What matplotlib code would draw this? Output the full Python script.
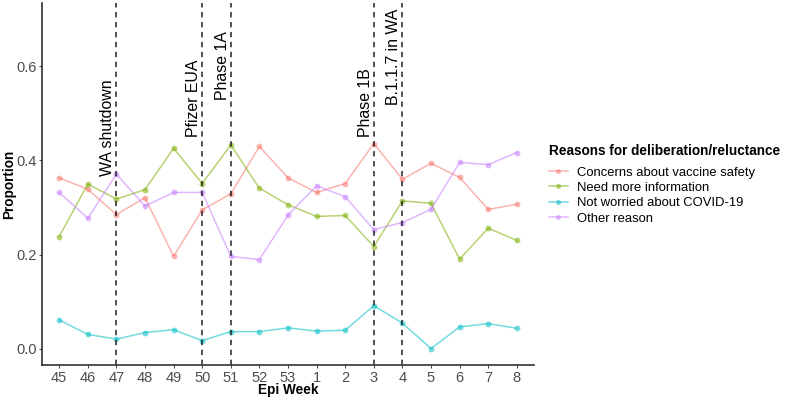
import matplotlib
matplotlib.use('Agg')
import matplotlib.pyplot as plt
from matplotlib.lines import Line2D

plt.rcParams['font.family'] = ['Liberation Sans', 'DejaVu Sans']

# Epi weeks (discrete categories, in survey order)
weeks = ['45', '46', '47', '48', '49', '50', '51', '52', '53',
         '1', '2', '3', '4', '5', '6', '7', '8']

concerns_safety = [0.363, 0.339, 0.285, 0.321, 0.196, 0.295, 0.329, 0.430, 0.363,
                   0.332, 0.351, 0.436, 0.360, 0.394, 0.364, 0.296, 0.307]
need_info = [0.238, 0.350, 0.318, 0.338, 0.426, 0.351, 0.433, 0.341, 0.306,
             0.281, 0.283, 0.217, 0.314, 0.309, 0.190, 0.256, 0.230]
not_worried = [0.061, 0.030, 0.020, 0.034, 0.040, 0.017, 0.036, 0.036, 0.044,
               0.037, 0.039, 0.091, 0.054, 0.000, 0.046, 0.053, 0.043]
other_reason = [0.332, 0.277, 0.371, 0.303, 0.332, 0.332, 0.196, 0.189, 0.284,
                0.346, 0.323, 0.253, 0.268, 0.296, 0.396, 0.391, 0.417]

series_names = ['Concerns about vaccine safety', 'Need more information',
                'Not worried about COVID-19', 'Other reason']
series_colors = ['#F8766D', '#7CAE00', '#00BFC4', '#C77CFF']

# events: week, label, label bottom (data units)
event_weeks = ['47', '50', '51', '3', '4']
event_labels = ['WA shutdown', 'Pfizer EUA', 'Phase 1A', 'Phase 1B', 'B.1.1.7 in WA']
event_label_y = [0.366, 0.449, 0.528, 0.449, 0.519]

fig = plt.figure(figsize=(7.87, 4.01), dpi=100)
ax = fig.add_axes([0.0534, 0.0898, 0.6251, 0.9027])

x = list(range(len(weeks)))
all_series = [concerns_safety, need_info, not_worried, other_reason]
for vals, name, col in zip(all_series, series_names, series_colors):
    ax.plot(x, vals, color=col, alpha=0.55, lw=1.1, marker='o', ms=4.2,
            markeredgewidth=0, label=name)

for wk, lab, ly in zip(event_weeks, event_labels, event_label_y):
    xi = weeks.index(wk)
    ax.axvline(xi, color='#222222', lw=1.1, ls=(0, (3.5, 3)))
    ax.text(xi - 0.04, ly, lab, rotation=90, ha='right', va='bottom',
            fontsize=11.4, color='black')

ax.set_xlim(-0.6, len(weeks) - 0.4)
ax.set_ylim(-0.035, 0.735)
ax.set_xticks(x)
ax.set_xticklabels(weeks)
ax.set_yticks([0.0, 0.2, 0.4, 0.6])
ax.set_yticklabels(['0.0', '0.2', '0.4', '0.6'])
ax.tick_params(axis='both', colors='#4D4D4D', labelsize=10.5, length=2, width=0.8, pad=2)

for side in ['top', 'right']:
    ax.spines[side].set_visible(False)
for side in ['left', 'bottom']:
    ax.spines[side].set_color('#333333')
    ax.spines[side].set_linewidth(1.2)

ax.set_xlabel('Epi Week', fontsize=9.8, fontweight='bold')
ax.set_ylabel('Proportion', fontsize=9.8, fontweight='bold')
ax.xaxis.set_label_coords(0.5, -0.05)
ax.yaxis.set_label_coords(-0.052, 0.5)

handles = [Line2D([0], [0], color=c, alpha=0.55, lw=1.1, marker='o', ms=3.6,
                  markeredgewidth=0) for c in series_colors]
leg = fig.legend(handles, series_names, loc='upper left',
                 bbox_to_anchor=(0.683, 0.67), frameon=False,
                 title='Reasons for deliberation/reluctance',
                 fontsize=9.4, title_fontproperties={'weight': 'bold', 'size': 9.8},
                 handlelength=1.4, handletextpad=0.7, labelspacing=0.25,
                 alignment='left')
leg._legend_box.sep = 6

fig.savefig('out.png', dpi=100)
